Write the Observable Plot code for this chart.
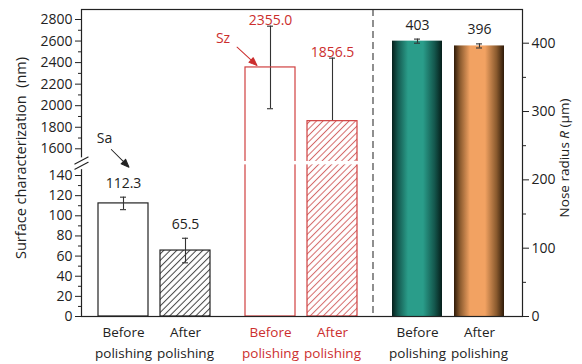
<!DOCTYPE html>
<html><head><meta charset="utf-8">
<script src="https://cdn.jsdelivr.net/npm/d3@7"></script>
<script src="https://cdn.jsdelivr.net/npm/@observablehq/plot@0.6"></script>
<style>
body{margin:0;background:#fff;}
#chart svg{font-family:"Open Sans",sans-serif;background:#fff;}
</style></head><body>
<svg width="0" height="0" style="position:absolute">
<defs>
<pattern id="hatchBlack" patternUnits="userSpaceOnUse" width="4.6" height="4.6" patternTransform="rotate(45)">
<rect width="4.6" height="4.6" fill="white"/>
<line x1="2.3" y1="0" x2="2.3" y2="4.6" stroke="#444" stroke-width="1"/>
</pattern>
<pattern id="hatchRed" patternUnits="userSpaceOnUse" width="4.6" height="4.6" patternTransform="rotate(45)">
<rect width="4.6" height="4.6" fill="white"/>
<line x1="2.3" y1="0" x2="2.3" y2="4.6" stroke="#d46a6a" stroke-width="1"/>
</pattern>
<linearGradient id="gradTeal" x1="0" x2="1" y1="0" y2="0">
<stop offset="0" stop-color="#061e1a"/>
<stop offset="0.12" stop-color="#155a50"/>
<stop offset="0.32" stop-color="#2a9d8a"/>
<stop offset="0.62" stop-color="#2a9d8a"/>
<stop offset="0.85" stop-color="#14574d"/>
<stop offset="1" stop-color="#061e1a"/>
</linearGradient>
<linearGradient id="gradOrange" x1="0" x2="1" y1="0" y2="0">
<stop offset="0" stop-color="#2e1a08"/>
<stop offset="0.12" stop-color="#8a5a2e"/>
<stop offset="0.32" stop-color="#f2a262"/>
<stop offset="0.62" stop-color="#f2a262"/>
<stop offset="0.85" stop-color="#8a5a2e"/>
<stop offset="1" stop-color="#2e1a08"/>
</linearGradient>
</defs></svg>
<div id="chart"></div>
<script>
// ---- data ----
const groups = ["Sa", "Sz", "R"];
const conditions = ["Before polishing", "After polishing"];
const saMean = [112.3, 65.5];
const saErr = [6.2, 12.2];
const szMean = [2355.0, 1856.5];
const szErr = [383, 585];
const rMean = [403, 396];
const rErr = [3, 3];
const lowTicks = [0, 20, 40, 60, 80, 100, 120, 140];
const lowMinor = [10, 30, 50, 70, 90, 110, 130];
const highTicks = [1600, 1800, 2000, 2200, 2400, 2600, 2800];
const highMinor = [1700, 1900, 2100, 2300, 2500, 2700];
const rightTicks = [0, 100, 200, 300, 400];
const rightMinor = [50, 150, 250, 350];

// ---- broken-axis mapping (virtual y units) ----
const LOW_K = 1.007, HIGH_BASE = 167.7, HIGH_K = 0.10775, R_K = 0.68325, Y_MAX = 307;
const surf = v => v < 1000 ? v * LOW_K : HIGH_BASE + (v - 1600) * HIGH_K;
const surfInv = y => String(y < 155 ? Math.round(y / LOW_K) : Math.round(1600 + (y - HIGH_BASE) / HIGH_K));
const nose = v => v * R_K;
const noseInv = y => String(Math.round(y / R_K));
const BRK = (surf(140) + surf(1600)) / 2 - 1;

const series = {Sa: [saMean, saErr], Sz: [szMean, szErr], R: [rMean, rErr]};
const rows = [];
for (const g of groups) {
  const [m, e] = series[g];
  const f = g === "R" ? nose : surf;
  conditions.forEach((c, i) => rows.push({g, c, v: m[i], e: e[i], mid: f(m[i]), lo: f(m[i] - e[i]), hi: f(m[i] + e[i])}));
}
const RED = "#cc2e2e", BLK = "#222";
const fillOf = d => d.g === "Sa" ? (d.c === conditions[0] ? "white" : "url(#hatchBlack)")
  : d.g === "Sz" ? (d.c === conditions[0] ? "none" : "url(#hatchRed)")
  : (d.c === conditions[0] ? "url(#gradTeal)" : "url(#gradOrange)");
const strokeOf = d => d.g === "Sa" ? BLK : d.g === "Sz" ? "#d04040" : "none";
const textOf = d => d.g === "Sz" ? RED : BLK;

const szRows = rows.filter(d => d.g === "Sz");
const otherRows = rows.filter(d => d.g !== "Sz");
const saBefore = rows.filter(d => d.g === "Sa" && d.c === conditions[0]);
const szBefore = rows.filter(d => d.g === "Sz" && d.c === conditions[0]);
const labels = groups.flatMap(g => conditions.map(c => ({g, c, t: c.replace(" ", "\n")})));

const arrowShape = {
  draw(ctx, l) {
    ctx.moveTo(0, 0); ctx.lineTo(0, -l + 6);
    ctx.moveTo(0, -l); ctx.lineTo(-3.2, -l + 8); ctx.lineTo(3.2, -l + 8); ctx.closePath();
  }
};
const lineShape = {draw(ctx, l) { ctx.moveTo(0, 0); ctx.lineTo(0, -l); }};
const errMarks = (data) => [
  Plot.ruleX(data, {fx: "g", x: "c", y1: "lo", y2: "hi", stroke: "#333", strokeWidth: 1.1}),
  Plot.tickY(data, {fx: "g", x: "c", y: "hi", insetLeft: 22, insetRight: 22, stroke: "#333", strokeWidth: 1.1}),
  Plot.tickY(data, {fx: "g", x: "c", y: "lo", insetLeft: 22, insetRight: 22, stroke: "#333", strokeWidth: 1.1})
];
const leftLabel = "Surface characterization  (nm)";
const rightLabel = "Nose radius R (μm)";

const chart = Plot.plot({
  width: 582, height: 364,
  marginLeft: 80, marginRight: 59, marginTop: 9, marginBottom: 48,
  style: {fontFamily: "Open Sans, sans-serif", fontSize: "14px", color: BLK},
  fx: {domain: groups, padding: 0, axis: null},
  x: {domain: conditions, paddingInner: 0.19, paddingOuter: 0.267, axis: null},
  y: {domain: [0, Y_MAX]},
  color: {type: "identity"},
  marks: [
    errMarks(szRows),
    Plot.barY(rows, {fx: "g", x: "c", y1: 0, y2: "mid", fill: fillOf, stroke: strokeOf, strokeWidth: 1.2}),
    Plot.barY(szRows, {fx: "g", x: "c", y1: () => BRK - 1.7, y2: () => BRK + 1.7, fill: "white", insetLeft: -2, insetRight: -2}),
    errMarks(otherRows),
    Plot.ruleX([{g: "R", c: conditions[0]}], {fx: "g", x: "c", dx: -44.5, stroke: "#333", strokeWidth: 1.1, strokeDasharray: "7,4"}),
    Plot.frame({facet: "super", stroke: BLK, strokeWidth: 1.2}),
    // left axis
    Plot.axisY({anchor: "left", ticks: [...lowTicks.map(surf), ...highTicks.map(surf)], tickFormat: surfInv, tickSize: 6, tickPadding: 3, fontSize: 14, label: null, stroke: BLK, fill: BLK}),
    Plot.axisY({anchor: "left", ticks: [...lowMinor.map(surf), ...highMinor.map(surf)], tickFormat: () => "", tickSize: 3, label: null, stroke: BLK}),
    // right axis
    Plot.axisY({anchor: "right", ticks: rightTicks.map(nose), tickFormat: noseInv, tickSize: 6, tickPadding: 3, fontSize: 14, label: null, stroke: BLK, fill: BLK}),
    Plot.axisY({anchor: "right", ticks: rightMinor.map(nose), tickFormat: () => "", tickSize: 3, label: null, stroke: BLK}),
    // axis break marks
    Plot.vector([{g: "Sa", y: BRK}], {fx: "g", y: "y", frameAnchor: "left", length: 8, rotate: 0, anchor: "middle", shape: lineShape, stroke: "white", strokeWidth: 4}),
    Plot.vector([{g: "Sa", y: BRK}], {fx: "g", y: "y", frameAnchor: "left", length: 15, rotate: 62, anchor: "middle", shape: lineShape, stroke: BLK, strokeWidth: 1.1, dy: -2.6}),
    Plot.vector([{g: "Sa", y: BRK}], {fx: "g", y: "y", frameAnchor: "left", length: 15, rotate: 62, anchor: "middle", shape: lineShape, stroke: BLK, strokeWidth: 1.1, dy: 2.6}),
    // value labels
    Plot.text(otherRows, {fx: "g", x: "c", y: "hi", text: d => d.g === "R" ? String(d.v) : d.v.toFixed(1), dy: -14, fill: BLK, fontSize: 14}),
    Plot.text(szRows, {fx: "g", x: "c", y: "hi", text: d => d.v.toFixed(1), dy: -6, fill: RED, fontSize: 14}),
    // annotations
    Plot.vector(saBefore, {fx: "g", x: "c", y: "hi", dx: 5.5, dy: -30, length: 25, rotate: 135, anchor: "end", shape: arrowShape, stroke: BLK, fill: BLK, strokeWidth: 1}),
    Plot.text(saBefore, {fx: "g", x: "c", y: "hi", text: d => d.g, dx: -19, dy: -59, fill: BLK, fontSize: 14}),
    Plot.vector(szBefore, {fx: "g", x: "c", y: "mid", dx: -13.5, dy: -2, length: 27, rotate: 132.5, anchor: "end", shape: arrowShape, stroke: RED, fill: RED, strokeWidth: 1}),
    Plot.text(szBefore, {fx: "g", x: "c", y: "mid", text: d => d.g, dx: -47.5, dy: -29, fill: RED, fontSize: 14}),
    // category labels
    Plot.text(labels, {fx: "g", x: "c", text: "t", frameAnchor: "bottom", lineAnchor: "middle", dy: 24, lineHeight: 1.6, fill: textOf, fontSize: 13.5}),
    // axis titles
    Plot.text([{g: "Sa"}], {fx: "g", text: () => leftLabel, frameAnchor: "left", textAnchor: "middle", lineAnchor: "middle", dx: -60, dy: -5, rotate: -90, fill: BLK, fontSize: 14.5}),
    Plot.text([{g: "R"}], {fx: "g", text: () => rightLabel, frameAnchor: "right", textAnchor: "middle", lineAnchor: "middle", dx: 42, dy: -5, rotate: -90, fill: BLK, fontSize: 13.5})
  ]
});
document.getElementById("chart").appendChild(chart);
// italicise the R in the right axis title
d3.select(chart).selectAll("text").filter(function () { return this.textContent === rightLabel; }).each(function () {
  const t = d3.select(this);
  t.text(null);
  t.append("tspan").text("Nose radius ");
  t.append("tspan").attr("font-style", "italic").text("R");
  t.append("tspan").text(" (μm)");
});
</script>
</body></html>
